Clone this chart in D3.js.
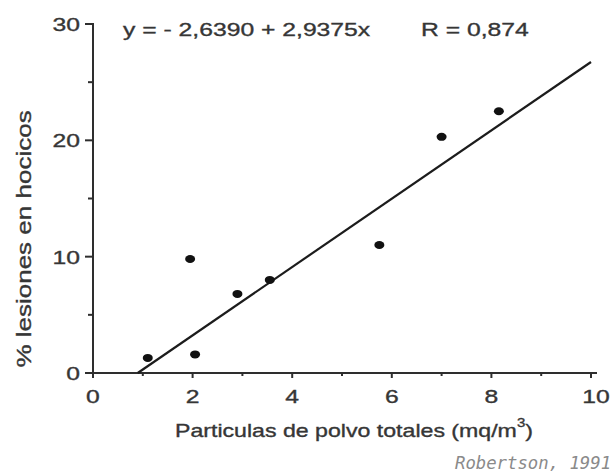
<!DOCTYPE html>
<html>
<head>
<meta charset="utf-8">
<script src="https://cdn.jsdelivr.net/npm/d3@7"></script>
<style>
    body { margin: 0; background: #fff; }
    text { font-family: "Liberation Sans", Arial, sans-serif; fill: #363636; stroke: #363636; stroke-width: 0.35px; }
</style>
</head>
<body>
<svg id="chart"></svg>
<script>
// data
const dust = [1.1, 1.95, 2.05, 2.9, 3.55, 5.75, 7.0, 8.15];
const lesions = [1.3, 9.8, 1.6, 6.8, 8.0, 11.0, 20.3, 22.5];
const fit = { a: -2.6390, b: 2.9375 };
const eqLabel = 'y = - 2,6390 + 2,9375x';
const rLabel = 'R = 0,874';
const xTicks = [0, 2, 4, 6, 8, 10];
const yTicks = [0, 10, 20, 30];
const xTitle = 'Particulas de polvo totales (mq/m';
const yTitle = '% lesiones en hocicos';
const source = 'Robertson, 1991';

const width = 614, height = 474;
const STRETCH = 1.3; // the scan is wider than tall, letters look stretched

const svg = d3.select('#chart')
    .attr('width', width)
    .attr('height', height);

const x = d3.scaleLinear().domain([0, 10]).range([93, 591]);
const y = d3.scaleLinear().domain([0, 30]).range([373, 24]);

function widen(sel, k) {
    sel.each(function () {
        const len = this.getComputedTextLength();
        d3.select(this)
            .attr('textLength', len * (k || STRETCH))
            .attr('lengthAdjust', 'spacingAndGlyphs');
    });
}

const axisColor = '#2e2e2e';

// y axis
svg.append('line')
    .attr('x1', x(0)).attr('x2', x(0))
    .attr('y1', y(30) - 1).attr('y2', y(0) + 1)
    .attr('stroke', axisColor).attr('stroke-width', 2);

svg.selectAll('line.ytick')
    .data(d3.range(0, 31, 5))
    .join('line')
    .attr('class', 'ytick')
    .attr('x1', d => x(0) - (d % 10 === 0 ? 8 : 5))
    .attr('x2', x(0))
    .attr('y1', d => y(d)).attr('y2', d => y(d))
    .attr('stroke', axisColor).attr('stroke-width', 2);

svg.selectAll('text.ylab')
    .data(yTicks)
    .join('text')
    .attr('class', 'ylab')
    .attr('x', 80)
    .attr('y', d => y(d) + 7)
    .attr('text-anchor', 'end')
    .attr('font-size', 19)
    .text(d => d)
    .call(widen);

// x axis
svg.append('line')
    .attr('x1', x(0) - 1).attr('x2', x(10) + 6)
    .attr('y1', y(0)).attr('y2', y(0))
    .attr('stroke', axisColor).attr('stroke-width', 2.2);

svg.selectAll('line.xtick')
    .data(d3.range(0, 11, 1))
    .join('line')
    .attr('class', 'xtick')
    .attr('x1', d => x(d)).attr('x2', d => x(d))
    .attr('y1', y(0))
    .attr('y2', d => y(0) + (d % 2 === 0 ? 5 : 3))
    .attr('stroke', axisColor).attr('stroke-width', 2);

svg.selectAll('text.xlab')
    .data(xTicks)
    .join('text')
    .attr('class', 'xlab')
    .attr('x', d => x(d) + (d === 10 ? 5 : 0))
    .attr('y', 403)
    .attr('text-anchor', 'middle')
    .attr('font-size', 19)
    .text(d => d)
    .call(widen);

// regression line, from where it crosses 0 up to x = 10
const x0 = -fit.a / fit.b;
svg.append('path')
    .datum([x0, 10])
    .attr('d', d3.line().x(d => x(d)).y(d => y(fit.a + fit.b * d)))
    .attr('stroke', '#1c1c1c')
    .attr('stroke-width', 2.2)
    .attr('fill', 'none');

// points
svg.selectAll('ellipse.pt')
    .data(dust)
    .join('ellipse')
    .attr('class', 'pt')
    .attr('cx', d => x(d))
    .attr('cy', (d, i) => y(lesions[i]))
    .attr('rx', 5)
    .attr('ry', 4)
    .attr('fill', '#111');

// equation and R
svg.append('text')
    .attr('x', 123).attr('y', 36)
    .attr('font-size', 19)
    .text(eqLabel)
    .call(widen);

svg.append('text')
    .attr('x', 421).attr('y', 36)
    .attr('font-size', 19)
    .text(rLabel)
    .call(widen);

// axis titles
const xt = svg.append('text')
    .attr('x', 175).attr('y', 437)
    .attr('font-size', 18.5);
xt.append('tspan').text(xTitle);
xt.append('tspan').attr('font-size', 12).attr('dy', -10).text('3');
xt.append('tspan').attr('dy', 10).text(')');
xt.call(widen, 1.25);

svg.append('text')
    .attr('transform', 'translate(31, 239) rotate(-90)')
    .attr('text-anchor', 'middle')
    .attr('font-size', 20)
    .text(yTitle)
    .call(widen);

// source in the bottom right corner
svg.append('text')
    .attr('x', 455).attr('y', 469)
    .attr('font-size', 17.3)
    .attr('font-style', 'italic')
    .style('font-family', '"DejaVu Sans Mono", monospace')
    .style('fill', '#8a8a8a')
    .style('stroke', 'none')
    .text(source);
</script>
</body>
</html>
